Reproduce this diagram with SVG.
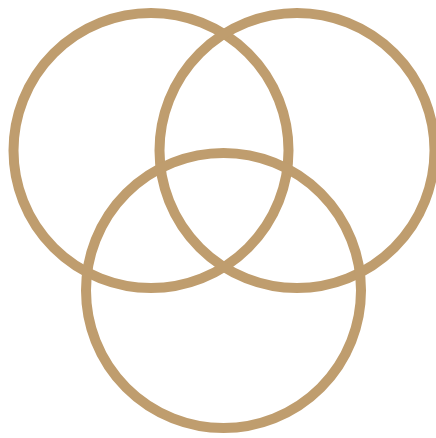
<svg xmlns="http://www.w3.org/2000/svg" width="436" height="438" viewBox="0 0 436 438">
<style>.c{fill:none;stroke:#bf9d6e;stroke-width:10}</style>
<rect width="436" height="438" fill="#ffffff"/>
<g id="circle-left"><circle class="c" cx="151" cy="150.5" r="137.5"/></g>
<g id="circle-right"><circle class="c" cx="297" cy="150.5" r="137.5"/></g>
<g id="circle-bottom"><circle class="c" cx="223.5" cy="290.5" r="137.5"/></g>
<g id="connectors"></g>
</svg>
